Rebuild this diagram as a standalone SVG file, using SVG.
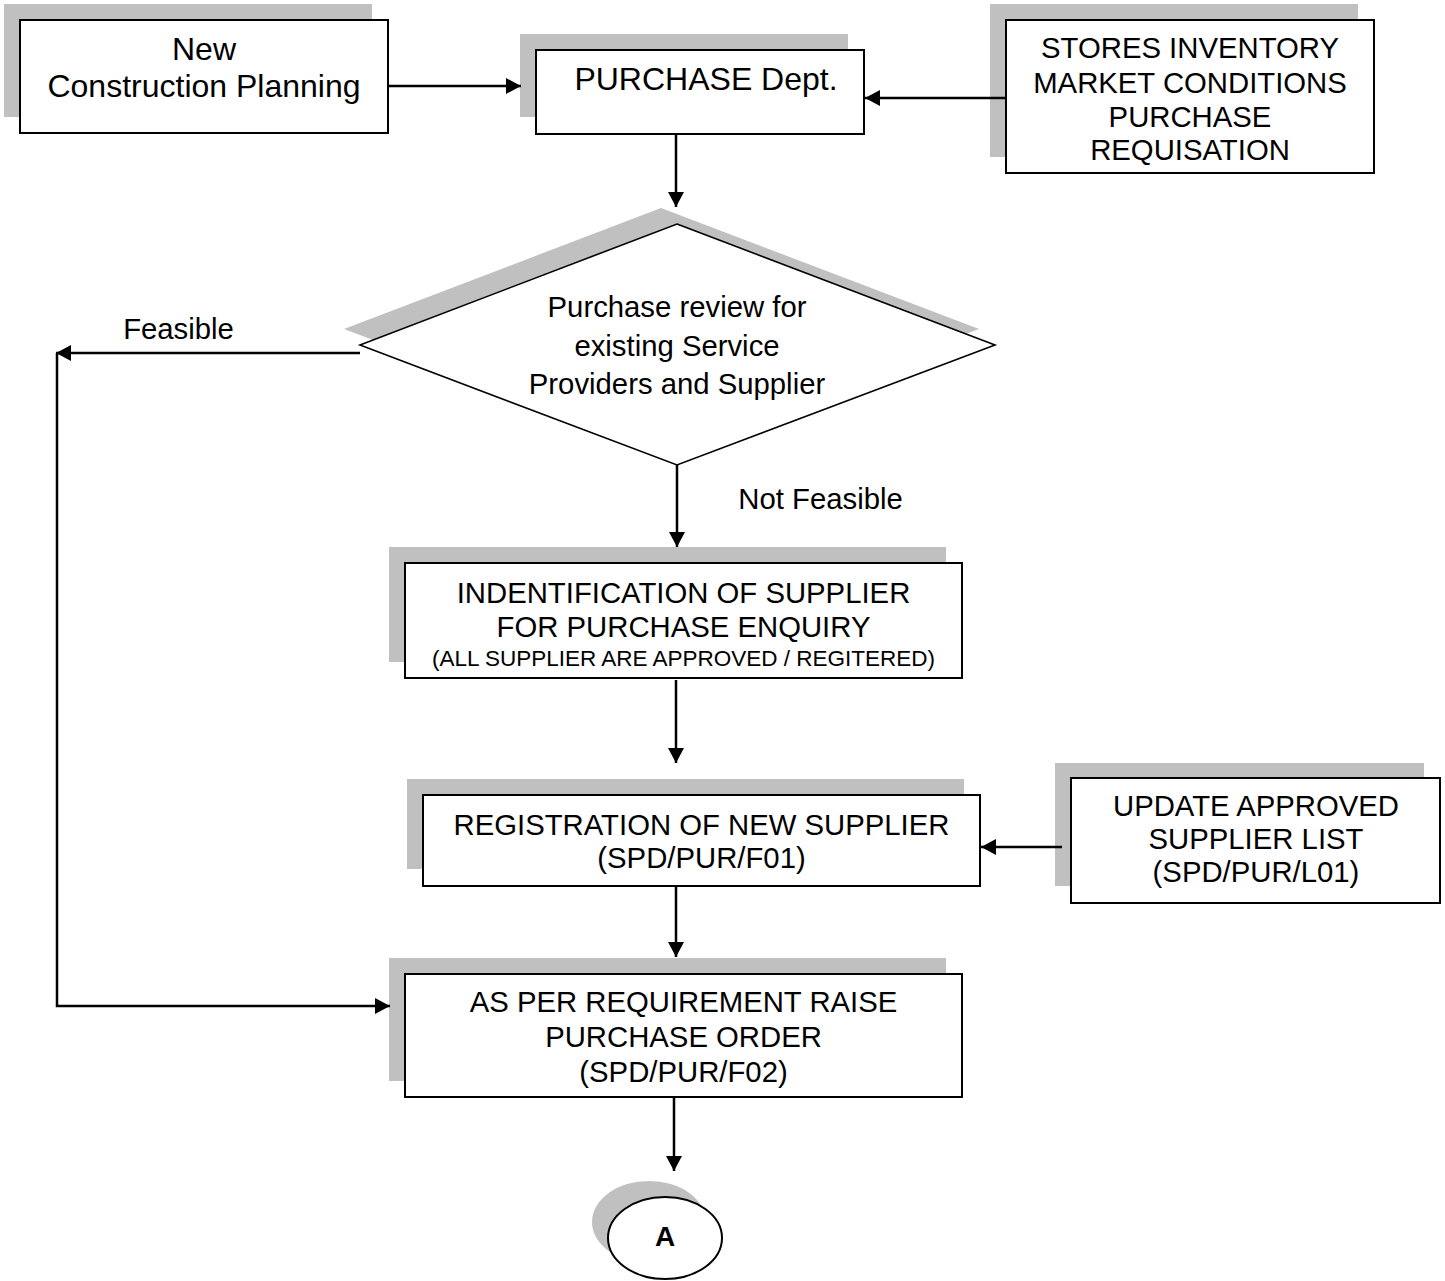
<svg xmlns="http://www.w3.org/2000/svg" width="1445" height="1281" viewBox="0 0 1445 1281">
<defs>
<style>
.sh{fill:#c0c0c0;stroke:none}
.bx{fill:#fff;stroke:#000;stroke-width:2}
.dm{fill:#fff;stroke:#000;stroke-width:1.6}
.t{font-family:"Liberation Sans",Arial,sans-serif;font-size:29.3px;fill:#000;text-anchor:middle}
.tl{font-size:32px}
.ts{font-size:22.5px}
.tb{font-weight:bold;font-size:28px}
.c{fill:none;stroke:#000;stroke-width:2.5}
</style>
<marker id="ah" viewBox="0 0 15 16" refX="15" refY="8" markerWidth="15" markerHeight="16" markerUnits="userSpaceOnUse" orient="auto">
<path d="M0,0 L15,8 L0,16 z" fill="#000"/>
</marker>
</defs>
<rect width="1445" height="1281" fill="#fff"/>

<g id="n-construction">
<rect class="sh" x="4" y="4" width="368" height="113"/>
<rect class="bx" x="20" y="20" width="368" height="113"/>
<text class="t tl" x="204" y="60">New</text>
<text class="t tl" x="204" y="97">Construction Planning</text>
</g>

<g id="n-purchase">
<rect class="sh" x="520" y="34" width="328" height="83"/>
<rect class="bx" x="536" y="50" width="328" height="84"/>
<text class="t tl" x="706" y="90">PURCHASE Dept.</text>
</g>

<g id="n-stores">
<rect class="sh" x="990" y="4" width="368" height="153"/>
<rect class="bx" x="1006" y="20" width="368" height="153"/>
<text class="t" x="1190" y="58">STORES INVENTORY</text>
<text class="t" x="1190" y="93">MARKET CONDITIONS</text>
<text class="t" x="1190" y="127">PURCHASE</text>
<text class="t" x="1190" y="160">REQUISATION</text>
</g>

<g id="n-review">
<polygon class="sh" points="661,208 979,329 661,449 344,329"/>
<polygon class="dm" points="677,224 995,345 677,465 360,345"/>
<text class="t" x="677" y="317">Purchase review for</text>
<text class="t" x="677" y="356">existing Service</text>
<text class="t" x="677" y="394">Providers and Supplier</text>
</g>

<g id="n-identification">
<rect class="sh" x="389" y="547" width="557" height="115"/>
<rect class="bx" x="405" y="563" width="557" height="115"/>
<text class="t" x="683.5" y="603">INDENTIFICATION OF SUPPLIER</text>
<text class="t" x="683.5" y="637">FOR PURCHASE ENQUIRY</text>
<text class="t ts" x="683.5" y="666">(ALL SUPPLIER ARE APPROVED / REGITERED)</text>
</g>

<g id="n-registration">
<rect class="sh" x="407" y="779" width="557" height="90"/>
<rect class="bx" x="423" y="795" width="557" height="91"/>
<text class="t" x="701.5" y="835">REGISTRATION OF NEW SUPPLIER</text>
<text class="t" x="701.5" y="868">(SPD/PUR/F01)</text>
</g>

<g id="n-update">
<rect class="sh" x="1055" y="763" width="369" height="123"/>
<rect class="bx" x="1071" y="778" width="369" height="125"/>
<text class="t" x="1256" y="816">UPDATE APPROVED</text>
<text class="t" x="1256" y="849">SUPPLIER LIST</text>
<text class="t" x="1256" y="882">(SPD/PUR/L01)</text>
</g>

<g id="n-order">
<rect class="sh" x="389" y="958" width="557" height="123"/>
<rect class="bx" x="405" y="974" width="557" height="123"/>
<text class="t" x="683.5" y="1012">AS PER REQUIREMENT RAISE</text>
<text class="t" x="683.5" y="1047">PURCHASE ORDER</text>
<text class="t" x="683.5" y="1082">(SPD/PUR/F02)</text>
</g>

<g id="n-a">
<ellipse class="sh" cx="649" cy="1222" rx="57" ry="41"/>
<ellipse class="bx" cx="665" cy="1238" rx="57" ry="41"/>
<text class="t tb" x="665" y="1246">A</text>
</g>

<g id="connectors">
<path class="c" d="M388,86 H521" marker-end="url(#ah)"/>
<path class="c" d="M1006,98 H865" marker-end="url(#ah)"/>
<path class="c" d="M676,134 V207" marker-end="url(#ah)"/>
<path class="c" d="M360,353 H56" marker-end="url(#ah)"/>
<path class="c" d="M57,353 V1006 H390" marker-end="url(#ah)"/>
<path class="c" d="M677,465 V547" marker-end="url(#ah)"/>
<path class="c" d="M676,680 V763" marker-end="url(#ah)"/>
<path class="c" d="M1062,847 H981" marker-end="url(#ah)"/>
<path class="c" d="M676,886 V957" marker-end="url(#ah)"/>
<path class="c" d="M674,1097 V1171" marker-end="url(#ah)"/>
<text class="t" x="178.5" y="339">Feasible</text>
<text class="t" x="820.5" y="509">Not Feasible</text>
</g>
</svg>
